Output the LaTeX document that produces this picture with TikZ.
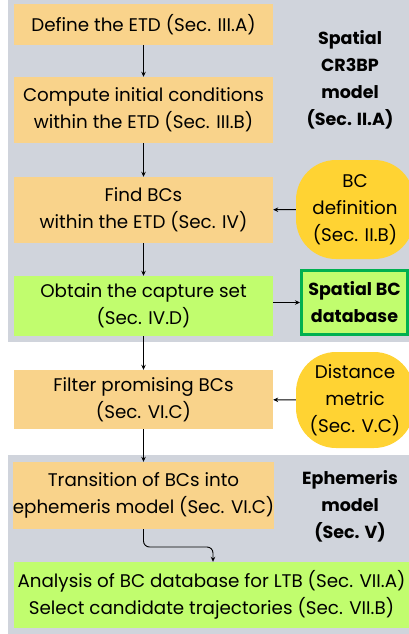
\documentclass[tikz,border=0pt]{standalone}
\usepackage{fontspec}
\setmainfont{Poppins}
\usetikzlibrary{arrows.meta,calc}
\definecolor{bggray}{HTML}{D0D4DC}
\definecolor{boxorange}{HTML}{F9D38B}
\definecolor{boxgreen}{HTML}{C1FD6E}
\definecolor{pillyellow}{HTML}{FFD333}
\definecolor{darkgreen}{HTML}{00B050}
\tikzset{
  x=1pt, y=-1pt,
  every node/.style={font=\fontsize{18.3}{27}\selectfont, align=center, inner sep=0pt},
  stepbox/.style={fill=boxorange, minimum width=259pt},
  greenbox/.style={fill=boxgreen},
  pill/.style={fill=pillyellow, rounded corners=40pt, minimum width=118pt},
  dbbox/.style={fill=boxgreen, draw=darkgreen, line width=3pt, minimum width=106pt, minimum height=64pt, font=\fontsize{17.5}{27}\selectfont\bfseries},
  lbl/.style={font=\fontsize{17.5}{27}\selectfont\bfseries},
  arr/.style={-{Stealth[length=5pt,width=4.5pt]}, line width=0.9pt, black},
}
\begin{document}
\begin{tikzpicture}
\useasboundingbox (0,0) rectangle (409,634);
\fill[white] (0,0) rectangle (409,634);
\fill[bggray] (8,0) rectangle (409,342);
\fill[bggray] (8,455) rectangle (409,634);

\node[stepbox, minimum height=41pt] (b1) at (143.5,24.5) {Define the ETD (Sec. III.A)};
\node[stepbox, minimum height=66pt] (b2) at (143.5,110) {Compute initial conditions\\within the ETD (Sec. III.B)};
\node[stepbox, minimum height=66pt] (b3) at (143.5,210) {Find BCs\\within the ETD (Sec. IV)};
\node[greenbox, minimum width=259pt, minimum height=60pt] (b4) at (143.5,306) {Obtain the capture set\\(Sec. IV.D)};
\node[stepbox, minimum height=59pt] (b5) at (143.5,399.5) {Filter promising BCs\\(Sec. VI.C)};
\node[stepbox, minimum height=67pt] (b6) at (143.5,495.5) {Transition of BCs into\\ephemeris model (Sec. VI.C)};
\node[greenbox, minimum width=395pt, minimum height=66pt] (b7) at (211.5,595) {Analysis of BC database for LTB (Sec. VII.A)\\Select candidate trajectories (Sec. VII.B)};

\node[lbl] (cr3bp) at (350,80) {Spatial\\CR3BP\\model\\(Sec. II.A)};
\node[pill, minimum height=99pt] (bcdef) at (355,209.5) {BC\\definition\\(Sec. II.B)};
\node[dbbox] (db) at (354.5,302.5) {Spatial BC\\database};
\node[pill, minimum height=96pt] (dist) at (355,400) {Distance\\metric\\(Sec. V.C)};
\node[lbl] (eph) at (350,506) {Ephemeris\\model\\(Sec. V)};

\draw[arr] (b1) -- (b2);
\draw[arr] (b2) -- (b3);
\draw[arr] (b3) -- (b4);
\draw[arr] (b4) -- (b5);
\draw[arr] (b5) -- (b6);
\draw[arr] (bcdef) -- (b3);
\draw[arr] (b4.east |- db) -- (db);
\draw[arr] (dist) -- (b5);
\coordinate (k) at (213,547);
\draw[arr, rounded corners=6pt] (b6.south) |- (k) -- (k |- b7.north);
\end{tikzpicture}
\end{document}
